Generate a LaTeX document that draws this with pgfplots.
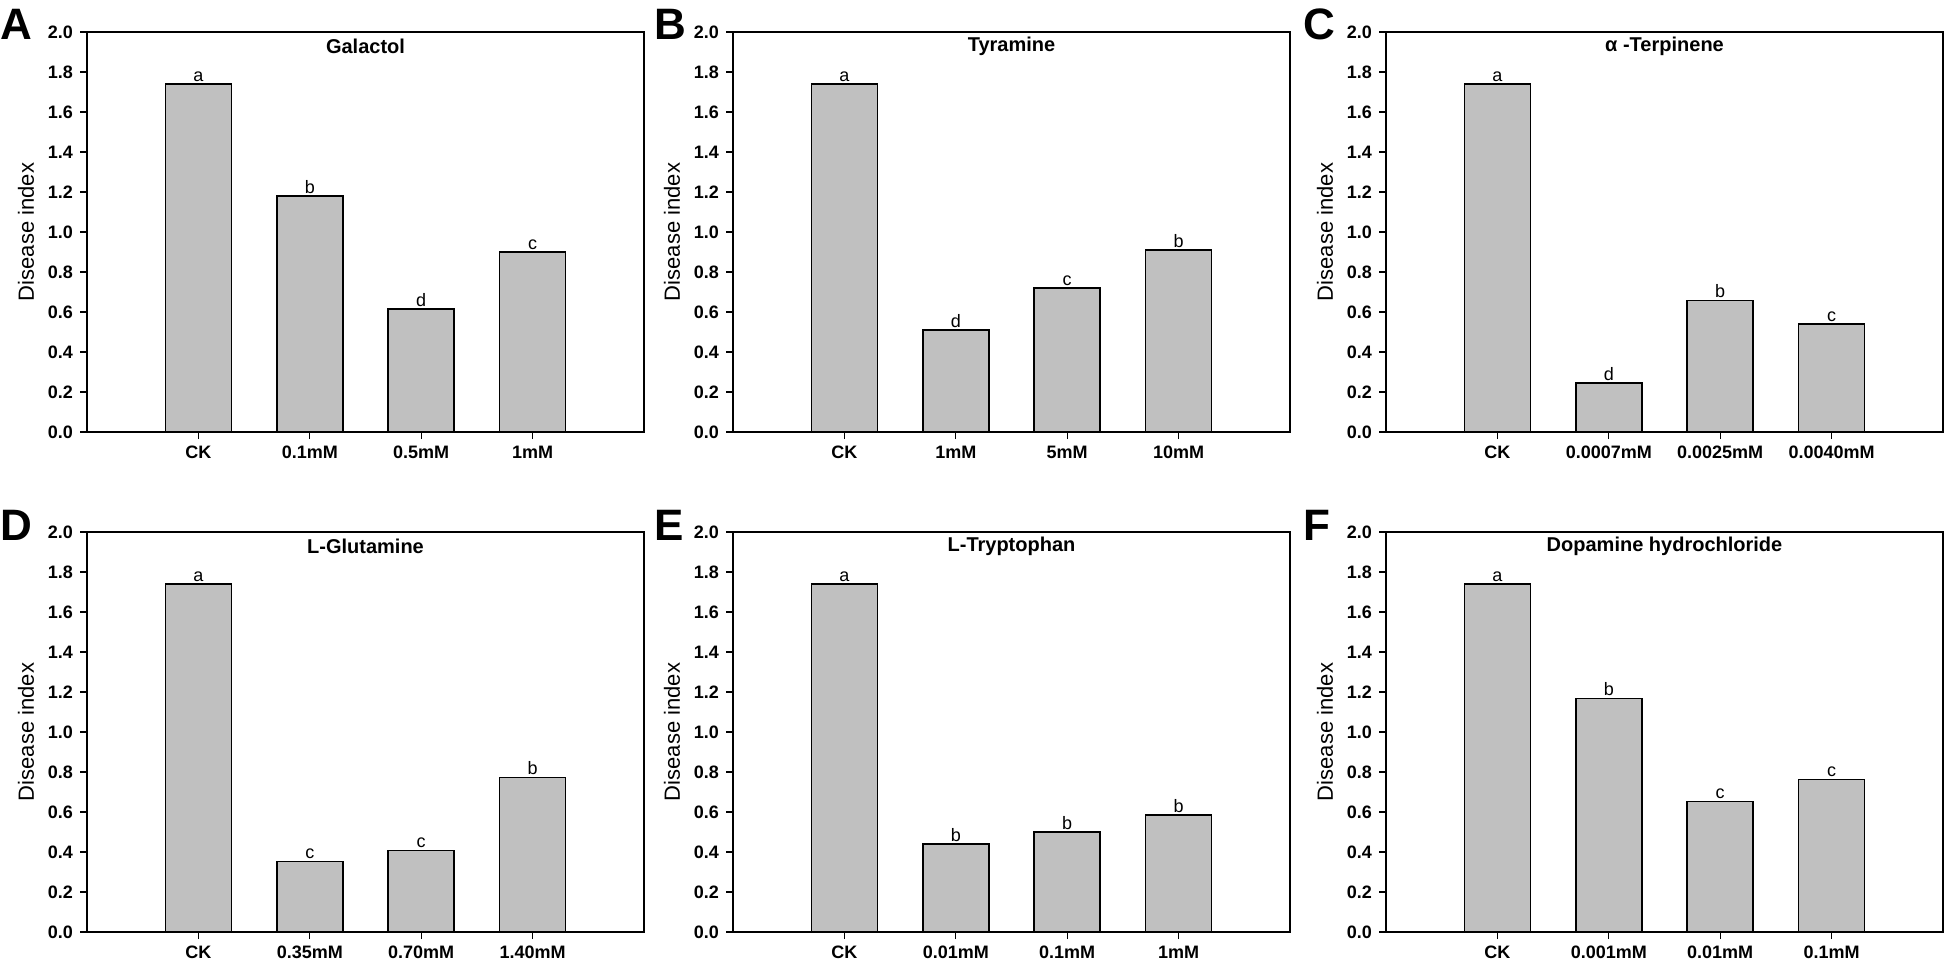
\documentclass[border=0pt]{standalone}
\usepackage{fontspec}
\setmainfont{Liberation Sans}
\usepackage{pgfplots}
\pgfplotsset{compat=1.18}
\definecolor{barfill}{RGB}{192,192,192}

\pgfplotsset{
  panel/.style={
    scale only axis, width=278.5pt, height=200pt,
    anchor=south west,
    xmin=-1, xmax=4, ymin=0, ymax=2,
    ytick={0,0.2,0.4,0.6,0.8,1.0,1.2,1.4,1.6,1.8,2.0},
    /pgf/number format/assume math mode=true,
    yticklabel style={/pgf/number format/fixed, /pgf/number format/fixed zerofill,
      /pgf/number format/precision=1, font=\bfseries\fontsize{9}{10}\selectfont},
    xtick={0,1,2,3},
    xticklabel style={font=\bfseries\fontsize{9}{10}\selectfont},
    tick align=outside, xtick pos=bottom, ytick pos=left,
    major tick length=3.5pt,
    every tick/.style={black, line width=0.6pt},
    axis line style={line width=0.75pt},
    ylabel={Disease index},
    ylabel style={font=\fontsize{11}{12}\selectfont},
    ybar, bar width=33pt,
    nodes near coords, point meta=explicit symbolic,
    every node near coord/.append style={font=\fontsize{9}{10}\selectfont, inner sep=1pt},
  },
  bars/.style={fill=barfill, draw=black, line width=0.75pt},
}
\newcommand{\ptitle}[1]{\node[font=\bfseries\fontsize{10}{12}\selectfont] at (rel axis cs:0.5,0.965) {#1};}

\begin{document}
\begin{tikzpicture}
\path[use as bounding box] (0,0) rectangle (973pt,483pt);

% row 1
\begin{axis}[panel, at={(43.5pt,267pt)}, xticklabels={CK,0.1mM,0.5mM,1mM}]
\addplot[bars] table[meta=lab] {
x y lab
0 1.74 a
1 1.18 b
2 0.615 d
3 0.90 c
};
\ptitle{Galactol}
\end{axis}

\begin{axis}[panel, at={(366.5pt,267pt)}, xticklabels={CK,1mM,5mM,10mM}]
\addplot[bars] table[meta=lab] {
x y lab
0 1.74 a
1 0.51 d
2 0.72 c
3 0.91 b
};
\ptitle{Tyramine}
\end{axis}

\begin{axis}[panel, at={(693pt,267pt)}, xticklabels={CK,0.0007mM,0.0025mM,0.0040mM}]
\addplot[bars] table[meta=lab] {
x y lab
0 1.74 a
1 0.245 d
2 0.657 b
3 0.54 c
};
\ptitle{α -Terpinene}
\end{axis}

% row 2
\begin{axis}[panel, at={(43.5pt,17pt)}, xticklabels={CK,0.35mM,0.70mM,1.40mM}]
\addplot[bars] table[meta=lab] {
x y lab
0 1.74 a
1 0.353 c
2 0.408 c
3 0.772 b
};
\ptitle{L-Glutamine}
\end{axis}

\begin{axis}[panel, at={(366.5pt,17pt)}, xticklabels={CK,0.01mM,0.1mM,1mM}]
\addplot[bars] table[meta=lab] {
x y lab
0 1.74 a
1 0.44 b
2 0.50 b
3 0.585 b
};
\ptitle{L-Tryptophan}
\end{axis}

\begin{axis}[panel, at={(693pt,17pt)}, xticklabels={CK,0.001mM,0.01mM,0.1mM}]
\addplot[bars] table[meta=lab] {
x y lab
0 1.74 a
1 1.167 b
2 0.652 c
3 0.762 c
};
\ptitle{Dopamine hydrochloride}
\end{axis}

% panel letters
\begin{scope}[every node/.style={anchor=base west, inner sep=0pt, font=\bfseries\fontsize{22}{22}\selectfont}]
\node at (0pt,463pt) {A};
\node at (327pt,463pt) {B};
\node at (651.5pt,463pt) {C};
\node at (0pt,213pt) {D};
\node at (327pt,213pt) {E};
\node at (651.5pt,213pt) {F};
\end{scope}
\end{tikzpicture}
\end{document}
